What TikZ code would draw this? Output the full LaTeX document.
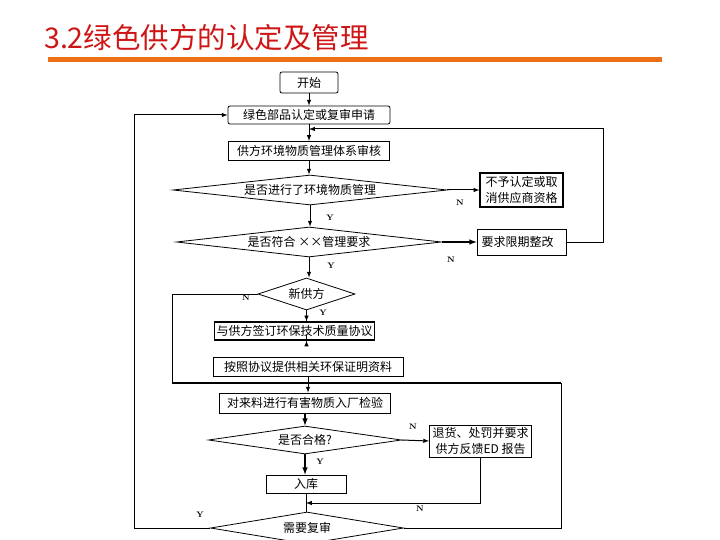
\documentclass[tikz,border=0pt]{standalone}
\usepackage{fontspec}
\usepackage{xcolor}
\usepackage{tikz}
\usetikzlibrary{arrows}
\usetikzlibrary{arrows.meta}
\usetikzlibrary{shapes}
\usetikzlibrary{shapes.geometric}
\newfontfamily\cjk{Noto Sans CJK SC}
\definecolor{titlered}{RGB}{206,22,22}
\definecolor{barorange}{RGB}{236,112,24}
\tikzset{>=latex}
\tikzstyle{stepbox} = [rectangle, draw=black, line width=0.8pt, inner sep=0pt, align=center, font=\cjk\fontsize{12}{16}\selectfont]
\tikzstyle{choice} = [diamond, draw=black, line width=0.8pt, aspect=9, inner sep=0pt, font=\cjk\fontsize{12}{13}\selectfont]
\tikzstyle{yn} = [inner sep=0pt, font=\bfseries\fontsize{8}{8}\selectfont]
\tikzstyle{flow} = [-latex, draw = black, line width=1pt]

\begin{document}
\begin{tikzpicture}[x=1pt, y=-1pt]
\useasboundingbox (0,0) rectangle (720,540);
\node [anchor=west, inner sep=0pt, text=titlered, font=\cjk\fontsize{28.5}{30}\selectfont] (title) at (44,38) {3.2绿色供方的认定及管理};
\fill [barorange] (48,57) rectangle (662,62);

\node [stepbox, rounded corners=2pt, minimum width=58pt, minimum height=21pt] (start) at (309,82.5) {开始};
\node [stepbox, rounded corners=2pt, minimum width=162pt, minimum height=18pt] (apply) at (309,115) {绿色部品认定或复审申请};
\node [stepbox, line width=1.2pt, minimum width=161pt, minimum height=19pt] (audit) at (309,151) {供方环境物质管理体系审核};
\node [choice, minimum width=274pt, minimum height=30pt] (dEnv) at (310,190) {是否进行了环境物质管理};
\node [stepbox, line width=1.1pt, minimum width=83pt, minimum height=34pt] (reject) at (521.5,190) {不予认定或取\\消供应商资格};
\node [choice, minimum width=265pt, minimum height=30pt] (dReq) at (309,242) {是否符合 ××管理要求};
\node [stepbox, minimum width=89pt, minimum height=26pt, text width=80pt, align=left] (rectify) at (521.5,242) {要求限期整改};
\node [choice, aspect=3, minimum width=97pt, minimum height=32pt] (dNew) at (306.5,294) {新供方};
\node [stepbox, line width=1.1pt, minimum width=160pt, minimum height=18pt] (sign) at (294.5,331) {与供方签订环保技术质量协议};
\node [stepbox, minimum width=190pt, minimum height=19pt] (provide) at (308,366.5) {按照协议提供相关环保证明资料};
\node [stepbox, minimum width=171pt, minimum height=20pt] (inspect) at (305,403) {对来料进行有害物质入厂检验};
\node [choice, minimum width=193pt, minimum height=28pt] (dPass) at (305,440) {是否合格?};
\node [stepbox, minimum width=102pt, minimum height=32pt] (returnBox) at (480.5,441) {退货、处罚并要求\\供方反馈ED 报告};
\node [stepbox, minimum width=80pt, minimum height=18pt] (store) at (306,484) {入库};
\node [choice, minimum width=193pt, minimum height=32pt] (dReview) at (307,528) {需要复审};

\coordinate (rTop) at (603,129);
\coordinate (busL) at (172,383);
\coordinate (busR) at (561,383);
\coordinate (yLeft) at (134,528);
\coordinate (nJoin) at (480,503);

\draw [flow] (start.south) to (start.south |- apply.north);
\draw [flow] (apply.south) to (apply.south |- audit.north);
\draw [flow] (audit.south) to (audit.south |- dEnv.north);
\draw [flow] (dEnv.east) to (reject.west);
\draw [flow] (dEnv.south) to (dEnv.south |- dReq.north);
\draw [flow, line width=1.5pt] (dReq.east) to (rectify.west);
\draw [flow] (rectify.east) -| (rTop) -- (rTop -| apply.south);
\draw [flow] (dReq.south) to (dReq.south |- dNew.north);
\draw [line width=1pt] (dNew.west) -| (busL);
\draw [flow] (dNew.south) to (dNew.south |- sign.north);
\draw [flow] (sign.south -| dNew.south) to (sign.south -| dNew.south |- provide.north);
\draw [flow] (provide.south) to (provide.south |- inspect.north);
\draw [line width=2.6pt] (busL) -- (busR);
\draw [flow, line width=1.5pt] (inspect.south) to (inspect.south |- dPass.north);
\draw [flow] (dPass.east) to (returnBox.west);
\draw [flow, line width=1.5pt] (dPass.south) to (dPass.south |- store.north);
\draw [line width=1pt] (store.south) to (store.south |- dReview.north);
\draw [flow] (returnBox.south -| nJoin) |- (nJoin -| store.south);
\draw [flow] (dReview.west) -- (yLeft) |- (apply.west);
\draw [line width=1pt] (dReview.east) -| (busR);

\node [yn] (nEnv) at (460,203) {N};
\node [yn] (yEnv) at (330,218) {Y};
\node [yn] (nReq) at (451,260) {N};
\node [yn] (yReq) at (331,266) {Y};
\node [yn] (nNew) at (246,298) {N};
\node [yn] (yNew) at (323,313) {Y};
\node [yn] (nPass) at (413,427) {N};
\node [yn] (yPass) at (320,462) {Y};
\node [yn] (nRet) at (420,509) {N};
\node [yn] (yRev) at (200,515) {Y};
\end{tikzpicture}
\end{document}
